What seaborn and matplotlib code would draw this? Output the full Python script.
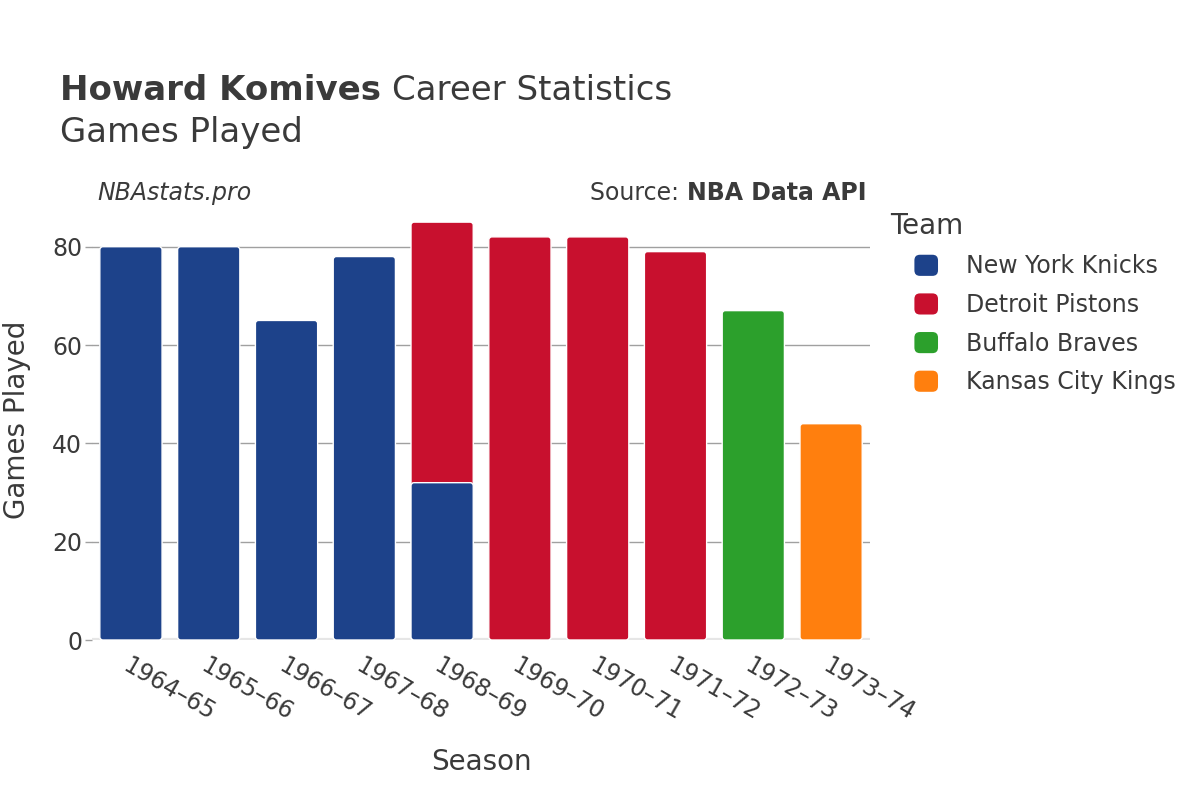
import pandas as pd
import matplotlib.pyplot as plt
import seaborn as sns
from matplotlib.patches import Patch, FancyBboxPatch
from matplotlib.legend_handler import HandlerPatch

# Data
seasons = ["1964–65", "1965–66", "1966–67", "1967–68", "1968–69",
           "1969–70", "1970–71", "1971–72", "1972–73", "1973–74"]
teams = ["New York Knicks", "Detroit Pistons", "Buffalo Braves", "Kansas City Kings"]
knicks = [80, 80, 65, 78, 32, 0, 0, 0, 0, 0]
pistons = [0, 0, 0, 0, 53, 82, 82, 79, 0, 0]
braves = [0, 0, 0, 0, 0, 0, 0, 0, 67, 0]
kings = [0, 0, 0, 0, 0, 0, 0, 0, 0, 44]
colors = ["#1d428a", "#c8102e", "#2ca02c", "#ff7f0e"]

# Long table, stacked in team order
rows = []
for s_i, s in enumerate(seasons):
    base = 0
    for t, vals in zip(teams, [knicks, pistons, braves, kings]):
        v = vals[s_i]
        if v > 0:
            rows.append({"season": s, "team": t, "games": v, "top": base + v})
            base += v
df = pd.DataFrame(rows)
df["is_top"] = df["top"] == df.groupby("season")["top"].transform("max")

sns.set_theme(style="white")
plt.rcParams["font.family"] = ["DejaVu Sans"]
text_col = "#3a3a3a"

fig = plt.figure(figsize=(12, 8), dpi=100)
ax = fig.add_axes([0.0767, 0.2, 0.6483, 0.55])
palette = dict(zip(teams, colors))

# upper segments first, then lower segments over them
for part in [df[df["is_top"]], df[~df["is_top"]]]:
    sns.barplot(data=part, x="season", y="top", hue="team", order=seasons,
                hue_order=teams, palette=palette, dodge=False, width=0.8,
                saturation=1, edgecolor="white", linewidth=1, legend=False,
                ax=ax, zorder=3)

ax.set_ylim(0, 89.5)
ax.set_xlim(-0.5, len(seasons) - 0.5)

# swap bars for slightly rounded ones
aspect = (ax.get_position().height * 800 / 89.5) ** -1 * (ax.get_position().width * 1200 / len(seasons))
for p in list(ax.patches):
    x, y, w, h = p.get_x(), p.get_y(), p.get_width(), p.get_height()
    rp = FancyBboxPatch((x, y), w, h, boxstyle="round,pad=0,rounding_size=0.04",
                        mutation_aspect=aspect, facecolor=p.get_facecolor(),
                        edgecolor="white", linewidth=1, zorder=p.get_zorder())
    p.remove()
    ax.add_patch(rp)

ax.set_yticks([0, 20, 40, 60, 80])
ax.yaxis.grid(True, color="#a0a0a0", linewidth=1, zorder=0)
ax.axhline(0, color="#e6e6e6", linewidth=3, zorder=2)
for sp in ax.spines.values():
    sp.set_visible(False)
ax.tick_params(axis="y", labelsize=17, colors=text_col, length=5, width=1, color="#a0a0a0", left=True, pad=2)
ax.tick_params(axis="x", labelsize=17, colors=text_col, length=0, pad=10)
plt.setp(ax.get_xticklabels(), rotation=-30, ha="left", rotation_mode="anchor")

ax.set_xlabel("Season", fontsize=20, color=text_col)
ax.set_ylabel("Games Played", fontsize=20, color=text_col)
ax.xaxis.set_label_coords(0.5, -0.245)
ax.yaxis.set_label_coords(-0.078, 0.5)

fig.canvas.draw()
r = fig.canvas.get_renderer()

t1 = fig.text(0.05, 0.875, "Howard Komives", fontsize=24.5, fontweight="bold", color=text_col, va="baseline")
bb = t1.get_window_extent(r)
fig.text(bb.x1 / 1200 + 0.009, 0.875, "Career Statistics", fontsize=24.5, color=text_col, va="baseline")
fig.text(0.05, 0.822, "Games Played", fontsize=24.5, color=text_col, va="baseline")

fig.text(0.081, 0.75, "NBAstats.pro", fontsize=17, style="italic", color=text_col, va="baseline")
t2 = fig.text(0.7217, 0.75, "NBA Data API", fontsize=17, fontweight="bold", color=text_col, va="baseline", ha="right")
bb2 = t2.get_window_extent(r)
fig.text(bb2.x0 / 1200, 0.75, "Source: ", fontsize=17, color=text_col, va="baseline", ha="right")


class RoundHandler(HandlerPatch):
    def create_artists(self, legend, orig_handle, xdescent, ydescent, width, height, fontsize, trans):
        p = FancyBboxPatch((-xdescent, -ydescent), width, height,
                           boxstyle="round,pad=0,rounding_size=4",
                           facecolor=orig_handle.get_facecolor(), edgecolor="none",
                           transform=trans)
        return [p]


fig.text(0.742, 0.717, "Team", fontsize=20, color=text_col, va="center")
handles = [Patch(facecolor=c, edgecolor=c, label=t) for t, c in zip(teams, colors)]
leg = fig.legend(handles=handles, loc="upper left", bbox_to_anchor=(0.762, 0.682),
                 frameon=False, fontsize=17, handlelength=1.0, handleheight=1.0,
                 handletextpad=1.2, labelspacing=0.62, borderpad=0, borderaxespad=0,
                 handler_map={Patch: RoundHandler()})
for txt in leg.get_texts():
    txt.set_color(text_col)

fig.savefig("out.png", dpi=100)
